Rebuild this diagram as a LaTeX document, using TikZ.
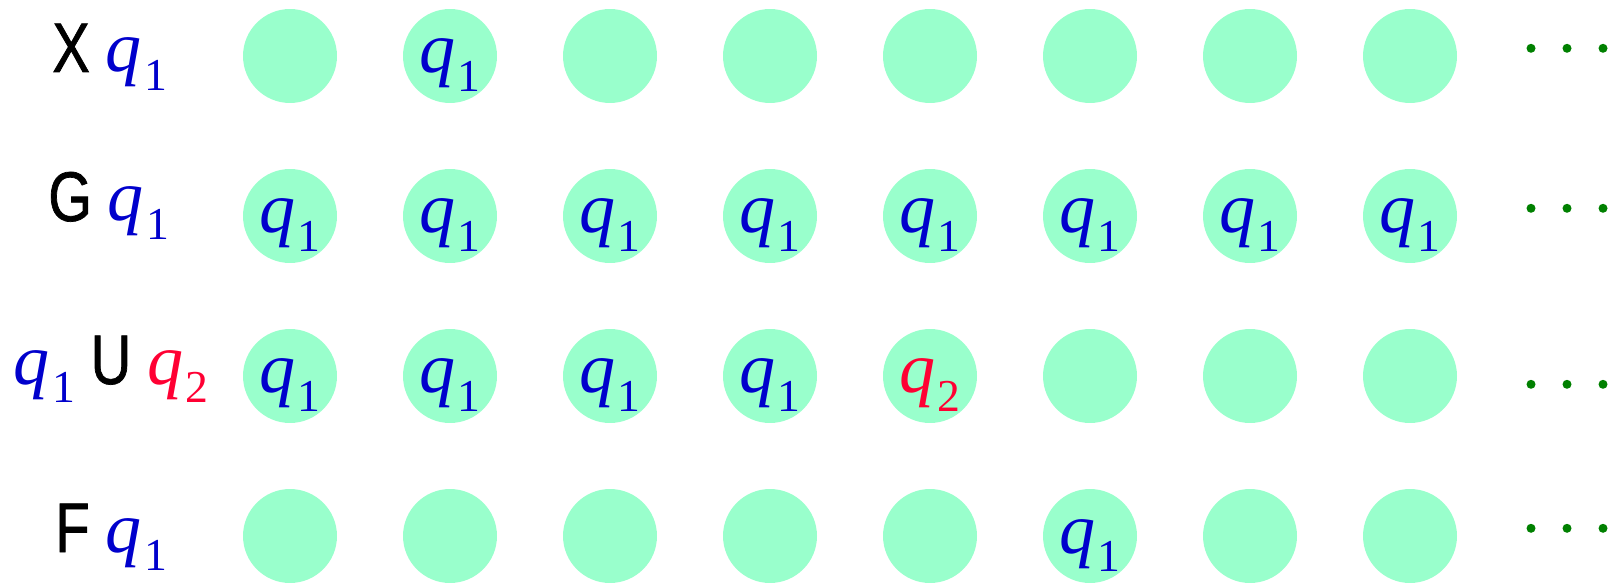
\documentclass[tikz,border=0pt]{standalone}
\usepackage{fontspec}
\newfontfamily\opfont[FakeStretch=0.8,FakeBold=1]{Liberation Sans}
\newfontfamily\varfont{Liberation Serif}
\usepackage{tikz}
\usetikzlibrary{positioning}
\usepackage{xcolor}
\definecolor{cellfill}{RGB}{153,255,204}
\definecolor{qblue}{RGB}{0,0,204}
\definecolor{qred}{RGB}{255,0,51}
\definecolor{dotgreen}{RGB}{0,128,0}
\newcommand{\qv}[1]{{\itshape q}\kern1.5pt\raisebox{-10.6pt}{\fontsize{26}{26}\selectfont #1}}
\newcommand{\op}[1]{{\opfont\fontsize{40}{40}\selectfont #1}}

\begin{document}
\begin{tikzpicture}[x=0.02cm,y=-0.02cm,every node/.style={inner sep=0pt,font=\varfont\fontsize{41}{41}\selectfont},cell/.style={circle,fill=cellfill,minimum size=1.88cm},dot/.style={circle,fill=dotgreen,minimum size=0.18cm},inq/.style={anchor=base,yshift=-0.34cm},rowlab/.style={anchor=base west}]
\useasboundingbox (0,0) rectangle (1619,584);
% time steps
\foreach \r/\y in {1/56,2/216,3/376,4/536} \foreach \c in {1,...,8} \node[cell] (c\r\c) at ({290+160*(\c-1)},\y) {};
\foreach \r/\y in {1/48.3,2/208.3,3/384.3,4/528.3} \foreach \k/\x in {1/1531,2/1567,3/1603} \node[dot] (d\r\k) at (\x,\y) {};
% formulas
\node[rowlab] (nx) at (52,72) {\op{X}\hspace{9pt}\textcolor{qblue}{\qv1}};
\node[rowlab] (ng) at (48,221) {\op{G}\hspace{9pt}\textcolor{qblue}{\qv1}};
\node[rowlab] (nu) at (13,384) {\textcolor{qblue}{\qv1}\hspace{9pt}\op{U}\hspace{9pt}\textcolor{qred}{\qv2}};
\node[rowlab] (nf) at (55,552) {\op{F}\hspace{9pt}\textcolor{qblue}{\qv1}};
% where q1 / q2 hold
\node[inq,text=qblue] (t12) at (c12.center) {\qv1};
\foreach \c in {1,...,8} \node[inq,text=qblue] (t2\c) at (c2\c.center) {\qv1};
\foreach \c in {1,...,4} \node[inq,text=qblue] (t3\c) at (c3\c.center) {\qv1};
\node[inq,text=qred] (t35) at (c35.center) {\qv2};
\node[inq,text=qblue] (t46) at (c46.center) {\qv1};
\end{tikzpicture}
\end{document}
